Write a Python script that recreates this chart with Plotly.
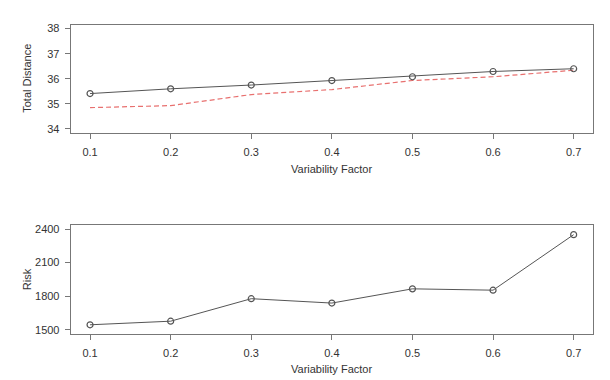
import plotly.graph_objects as go

variability = [0.1, 0.2, 0.3, 0.4, 0.5, 0.6, 0.7]
total_distance = [35.41, 35.60, 35.75, 35.93, 36.08, 36.29, 36.40]
total_distance_ref = [34.85, 34.93, 35.37, 35.57, 35.93, 36.08, 36.34]
risk = [1545, 1577, 1778, 1739, 1866, 1854, 2350]

x_ticks = [0.1, 0.2, 0.3, 0.4, 0.5, 0.6, 0.7]
x_ticklabels = ["0.1", "0.2", "0.3", "0.4", "0.5", "0.6", "0.7"]
y1_ticks = [34, 35, 36, 37, 38]
y2_ticks = [1500, 1800, 2100, 2400]

W, H = 610, 380
font = "Liberation Sans, Arial, sans-serif"
line_col = "#555555"
frame_col = "#777777"

fig = go.Figure()
fig.add_trace(go.Scatter(x=variability, y=total_distance_ref, mode="lines",
                         line=dict(color="#e8706f", width=1.2, dash="5px,3px"),
                         xaxis="x", yaxis="y", showlegend=False))
fig.add_trace(go.Scatter(x=variability, y=total_distance, mode="lines+markers",
                         line=dict(color=line_col, width=1),
                         marker=dict(symbol="circle-open", size=6, color=line_col,
                                     line=dict(width=1.2, color=line_col)),
                         xaxis="x", yaxis="y", showlegend=False))
fig.add_trace(go.Scatter(x=variability, y=risk, mode="lines+markers",
                         line=dict(color=line_col, width=1),
                         marker=dict(symbol="circle-open", size=6, color=line_col,
                                     line=dict(width=1.2, color=line_col)),
                         xaxis="x2", yaxis="y2", showlegend=False))

L, R = 62.7, 585
xdom = [L / W, R / W]
ax_common = dict(showline=True, mirror=True, linecolor=frame_col, linewidth=1,
                 ticks="outside", ticklen=5, tickcolor=frame_col, tickwidth=1,
                 showgrid=False, zeroline=False,
                 tickfont=dict(family=font, size=11, color="#333333"))

fig.update_layout(
    width=W, height=H,
    margin=dict(l=0, r=0, t=0, b=0),
    paper_bgcolor="white", plot_bgcolor="white",
    xaxis=dict(domain=xdom, range=[0.076, 0.724], tickvals=x_ticks,
               ticktext=x_ticklabels, anchor="y", ticklabelstandoff=4, **ax_common),
    yaxis=dict(domain=[1 - 124.3 / H, 1 - 14.7 / H], range=[33.84, 38.16],
               tickvals=y1_ticks, anchor="x", ticklabelstandoff=3, **ax_common),
    xaxis2=dict(domain=xdom, range=[0.076, 0.724], tickvals=x_ticks,
                ticktext=x_ticklabels, anchor="y2", ticklabelstandoff=4, **ax_common),
    yaxis2=dict(domain=[1 - 327.3 / H, 1 - 217.3 / H], range=[1464, 2436],
                tickvals=y2_ticks, anchor="x2", ticklabelstandoff=3, **ax_common),
)

title_font = dict(family=font, size=11, color="#333333")
anns = [
    dict(text="Variability Factor", x=(L + R) / 2 / W, y=1 - 161 / H),
    dict(text="Variability Factor", x=(L + R) / 2 / W, y=1 - 363 / H),
    dict(text="Total Distance", x=19 / W, y=1 - 69.5 / H, textangle=-90),
    dict(text="Risk", x=19 / W, y=1 - 272 / H, textangle=-90),
]
for a in anns:
    fig.add_annotation(xref="paper", yref="paper", showarrow=False,
                       xanchor="center", yanchor="middle", font=title_font, **a)

fig.write_html("out.html")
